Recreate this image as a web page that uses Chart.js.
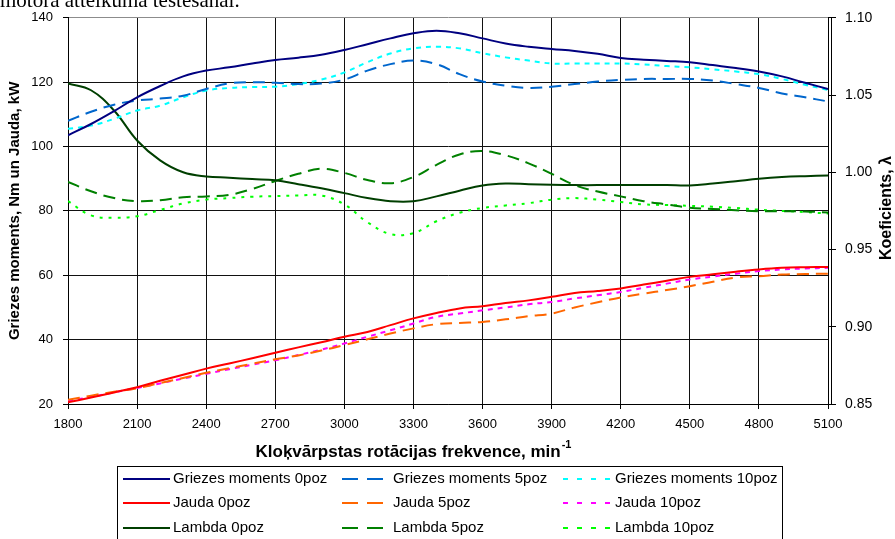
<!DOCTYPE html>
<html>
<head>
<meta charset="utf-8">
<script src="https://cdn.jsdelivr.net/npm/chart.js@4.4.0/dist/chart.umd.min.js"></script>
<style>
  body { margin: 0; background: #fff; }
  canvas { display: block; }
</style>
</head>
<body>
<canvas id="chartMotor" width="895" height="539"></canvas>
<script>
// apgriezieni, min-1
const rpm = [1800, 1900, 2000, 2100, 2200, 2300, 2400, 2500, 2600, 2700, 2800, 2900, 3000, 3100, 3200, 3300, 3400,
  3500, 3600, 3700, 3800, 3900, 4000, 4100, 4200, 4300, 4400, 4500, 4600, 4700, 4800, 4900, 5000, 5100];

// griezes moments, Nm
const moment0 = [103.5, 107.0, 111.0, 115.3, 118.8, 121.8, 123.6, 124.6, 125.8, 126.9, 127.6, 128.5, 130.0, 131.8, 133.6, 135.2, 136.0,
  135.2, 133.6, 132.0, 131.0, 130.3, 129.7, 128.8, 127.5, 127.0, 126.6, 126.2, 125.3, 124.4, 123.3, 121.8, 119.8, 117.9];
const moment5 = [108.0, 110.8, 113.0, 114.3, 114.9, 115.8, 117.9, 119.6, 120.0, 119.8, 119.4, 119.6, 120.8, 123.6, 125.6, 126.7, 125.6,
  122.5, 120.2, 118.9, 118.2, 118.6, 119.4, 120.2, 120.7, 121.0, 121.0, 121.0, 120.5, 119.4, 118.2, 116.5, 115.3, 114.0];
const moment10 = [105.5, 106.5, 108.6, 111.2, 112.7, 115.3, 117.4, 118.2, 118.5, 118.6, 119.4, 120.8, 123.0, 126.2, 128.9, 130.5, 131.0,
  130.5, 129.0, 127.7, 126.7, 125.8, 125.8, 125.8, 125.8, 125.5, 125.0, 124.6, 124.0, 123.3, 122.5, 121.0, 119.2, 117.6];

// jauda, kW
const jauda0 = [20.5, 22.0, 23.6, 25.2, 27.2, 29.1, 31.0, 32.6, 34.2, 35.9, 37.6, 39.2, 40.9, 42.4, 44.5, 46.6, 48.3,
  49.7, 50.4, 51.4, 52.2, 53.3, 54.5, 55.1, 55.9, 57.1, 58.3, 59.5, 60.3, 61.1, 61.8, 62.3, 62.5, 62.6];
const jauda5 = [21.3, 22.6, 23.8, 24.9, 26.5, 28.1, 29.7, 31.1, 32.5, 33.9, 35.1, 36.6, 38.3, 40.1, 41.9, 43.5, 44.8,
  45.2, 45.5, 46.3, 47.3, 48.1, 50.0, 51.6, 53.1, 54.3, 55.4, 56.6, 58.0, 59.3, 59.7, 60.2, 60.4, 60.5];
const jauda10 = [21.0, 22.2, 23.6, 25.0, 26.4, 27.9, 29.4, 30.8, 32.2, 33.6, 35.2, 36.9, 38.8, 40.9, 42.9, 45.0, 47.1,
  48.1, 49.1, 50.0, 51.0, 51.7, 52.8, 53.8, 54.8, 56.1, 57.4, 58.7, 59.6, 60.5, 61.3, 61.8, 62.1, 62.3];

// lambda koeficients
const lambda0 = [1.0575, 1.0531, 1.040, 1.0206, 1.0077, 1.000, 0.9973, 0.9965, 0.9956, 0.9948, 0.9923, 0.9896, 0.9865, 0.9833, 0.9813, 0.9813, 0.9844,
  0.9881, 0.9915, 0.9927, 0.9923, 0.9919, 0.9917, 0.9917, 0.9917, 0.9917, 0.9917, 0.9915, 0.9927, 0.9942, 0.9958, 0.9969, 0.9975, 0.9979];
const lambda5 = [0.9938, 0.9877, 0.9833, 0.9813, 0.9819, 0.9838, 0.9844, 0.9854, 0.9892, 0.9944, 0.9990, 1.0023, 0.9996, 0.9950, 0.9929, 0.9969, 1.0048,
  1.0115, 1.0138, 1.0110, 1.0058, 0.9990, 0.9917, 0.9875, 0.9844, 0.9813, 0.9792, 0.9771, 0.9763, 0.9754, 0.9748, 0.9748, 0.9746, 0.9740];
const lambda10 = [0.9813, 0.9721, 0.9706, 0.9715, 0.9756, 0.9798, 0.9823, 0.9833, 0.9842, 0.9846, 0.9850, 0.9850, 0.9792, 0.9677, 0.9600, 0.9606, 0.9683,
  0.9738, 0.9769, 0.9785, 0.9800, 0.9823, 0.9833, 0.9823, 0.9808, 0.9792, 0.9788, 0.9783, 0.9777, 0.9769, 0.9758, 0.9750, 0.9742, 0.9733];

const leftTicks = [20, 40, 60, 80, 100, 120, 140];
const rightTicks = [0.85, 0.90, 0.95, 1.00, 1.05, 1.10];
const xTicks = [1800, 2100, 2400, 2700, 3000, 3300, 3600, 3900, 4200, 4500, 4800, 5100];

const dashed = [12, 7];
const dotted = [5, 5];

const toPoints = (arr) => arr.map((v, i) => ({ x: rpm[i], y: v }));

const series = [
  { label: 'Griezes moments 0poz', data: moment0, color: '#000080', dash: [], axis: 'y' },
  { label: 'Griezes moments 5poz', data: moment5, color: '#0066CC', dash: dashed, axis: 'y' },
  { label: 'Griezes moments 10poz', data: moment10, color: '#00FFFF', dash: dotted, axis: 'y' },
  { label: 'Jauda 0poz', data: jauda0, color: '#FF0000', dash: [], axis: 'y' },
  { label: 'Jauda 5poz', data: jauda5, color: '#FF6600', dash: dashed, axis: 'y' },
  { label: 'Jauda 10poz', data: jauda10, color: '#FF00FF', dash: dotted, axis: 'y' },
  { label: 'Lambda 0poz', data: lambda0, color: '#003F00', dash: [], axis: 'y2' },
  { label: 'Lambda 5poz', data: lambda5, color: '#008000', dash: dashed, axis: 'y2' },
  { label: 'Lambda 10poz', data: lambda10, color: '#00FF00', dash: [3, 6], axis: 'y2' },
];

const font = '"Liberation Sans", Arial, sans-serif';

// virsraksti, leģenda un otrā labās ass līnija
const extras = {
  id: 'extras',
  afterDraw(chart) {
    const c = chart.ctx;
    const a = chart.chartArea;
    c.save();

    // teksta rinda no dokumenta augšas
    c.fillStyle = '#000';
    c.font = '21px "Liberation Serif", serif';
    c.textAlign = 'left';
    c.textBaseline = 'alphabetic';
    c.fillText('motora atteikuma testēšanai.', 0, 7);

    // labā ass
    c.strokeStyle = '#000';
    c.lineWidth = 1;
    c.beginPath();
    c.moveTo(a.right + 3.5, a.top);
    c.lineTo(a.right + 3.5, a.bottom);
    c.stroke();

    // asu nosaukumi
    c.textAlign = 'center';
    c.textBaseline = 'middle';
    c.font = 'bold 15px ' + font;
    c.save();
    c.translate(15, (a.top + a.bottom) / 2);
    c.rotate(-Math.PI / 2);
    c.fillText('Griezes moments, Nm un Jauda, kW', 0, 0);
    c.restore();
    c.font = 'bold 16px ' + font;
    c.save();
    c.translate(887, 208);
    c.rotate(-Math.PI / 2);
    c.fillText('Koeficients, λ', 0, 0);
    c.restore();

    // x ass nosaukums ar pakāpi
    const main = 'Kloķvārpstas rotācijas frekvence, min';
    c.font = 'bold 17px ' + font;
    const w1 = c.measureText(main).width;
    c.font = 'bold 11px ' + font;
    const w2 = c.measureText('-1').width;
    const xs = 413 - (w1 + w2) / 2;
    c.textAlign = 'left';
    c.font = 'bold 17px ' + font;
    c.fillText(main, xs, 452);
    c.font = 'bold 11px ' + font;
    c.fillText('-1', xs + w1 + 1, 445);

    // leģenda
    c.strokeStyle = '#000';
    c.lineWidth = 1;
    c.strokeRect(117.5, 466.5, 665, 80);
    const colLine = [[123, 170], [342, 383], [563, 610]];
    const colText = [173, 393, 615];
    const rowY = [479, 503, 528];
    const legendDash = [[], [16, 9], [5, 9]];
    c.font = '15px ' + font;
    c.textBaseline = 'middle';
    series.forEach((s, i) => {
      const row = Math.floor(i / 3), col = i % 3;
      const y = rowY[row];
      c.strokeStyle = s.color;
      c.lineWidth = 2;
      c.setLineDash(legendDash[col]);
      c.beginPath();
      c.moveTo(colLine[col][0], y);
      c.lineTo(colLine[col][1], y);
      c.stroke();
      c.setLineDash([]);
      c.fillStyle = '#000';
      c.fillText(s.label, colText[col], y);
    });
    c.restore();
  }
};

const ctx = document.getElementById('chartMotor');
const chartMotor = new Chart(ctx, {
  type: 'line',
  data: {
    datasets: series.map(s => ({
      label: s.label,
      data: toPoints(s.data),
      yAxisID: s.axis,
      borderColor: s.color,
      backgroundColor: s.color,
      borderDash: s.dash,
      borderWidth: 2,
      pointRadius: 0,
      tension: 0.4,
      fill: false,
    }))
  },
  options: {
    responsive: false,
    animation: false,
    devicePixelRatio: 1,
    layout: { padding: { top: 17, left: 0, right: 0, bottom: 0 } },
    plugins: {
      legend: { display: false },
      tooltip: { enabled: false },
    },
    scales: {
      x: {
        type: 'linear',
        min: 1800,
        max: 5100,
        afterBuildTicks: (s) => { s.ticks = xTicks.map(v => ({ value: v })); },
        afterFit: (s) => { s.height = 135; },
        ticks: {
          color: '#000',
          font: { family: font, size: 13 },
          padding: 8,
          maxRotation: 0,
          callback: (v) => String(v),
        },
        grid: { color: '#111', lineWidth: 1, tickLength: 5, tickColor: '#000' },
        border: { color: '#000', width: 1 },
      },
      y: {
        position: 'left',
        min: 20,
        max: 140,
        afterBuildTicks: (s) => { s.ticks = leftTicks.map(v => ({ value: v })); },
        afterFit: (s) => { s.width = 68; },
        ticks: {
          color: '#000',
          font: { family: font, size: 13 },
          padding: 10,
        },
        grid: {
          color: (c) => c.tick && c.tick.value === 140 ? '#8c8c8c' : '#111',
          lineWidth: 1,
          tickLength: 5,
          tickColor: '#000',
        },
        border: { color: '#000', width: 1 },
      },
      y2: {
        position: 'right',
        min: 0.85,
        max: 1.10,
        afterBuildTicks: (s) => { s.ticks = rightTicks.map(v => ({ value: v })); },
        afterFit: (s) => { s.width = 67; },
        ticks: {
          color: '#000',
          font: { family: font, size: 14 },
          padding: 9,
          callback: (v) => Number(v).toFixed(2),
        },
        grid: { drawOnChartArea: false, tickLength: 8, tickColor: '#000' },
        border: { color: '#000', width: 1 },
      },
    },
  },
  plugins: [extras],
});
</script>
</body>
</html>
